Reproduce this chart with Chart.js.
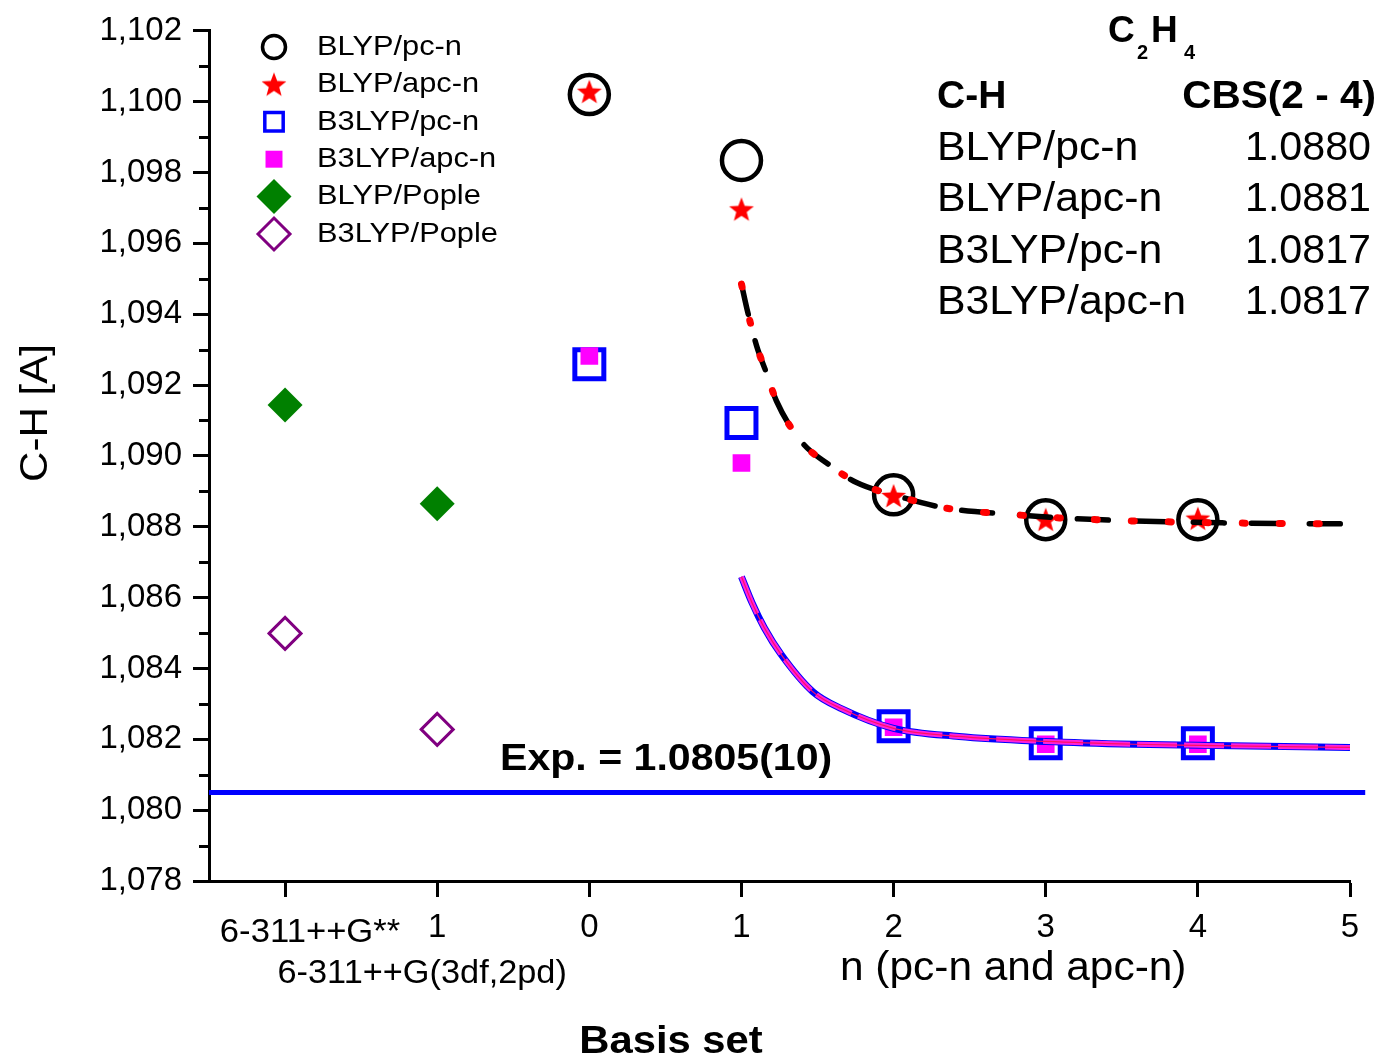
<!DOCTYPE html>
<html>
<head>
<meta charset="utf-8">
<title>C2H4 C-H bond length vs basis set</title>
<script src="https://cdn.jsdelivr.net/npm/chart.js@4.4.0/dist/chart.umd.min.js"></script>
<style>
  html, body { margin: 0; padding: 0; background: #fff; }
  canvas { display: block; }
</style>
</head>
<body>
<canvas id="bondChart" width="1381" height="1057"></canvas>
<script>
const FONT = '"Liberation Sans", Arial, sans-serif';

// x = n for pc-n / apc-n; Pople sets sit at -2 (6-311++G**) and -1 (6-311++G(3df,2pd))
const nPc = [0, 1, 2, 3, 4];
const blypPc = [1.10020, 1.09834, 1.08890, 1.08820, 1.08820];
const blypApc = [1.10028, 1.09696, 1.08887, 1.08820, 1.08823];
const b3lypPc = [1.09259, 1.09093, 1.08237, 1.08189, 1.08189];
const b3lypApc = [1.09282, 1.08980, 1.08234, 1.08186, 1.08186];

const nPople = [-2, -1];
const blypPople = [1.09144, 1.08865];
const b3lypPople = [1.08499, 1.08228];

// CBS(2-4) extrapolation curves
const blypFitN = [1.00, 1.04, 1.10, 1.16, 1.23, 1.40, 1.57, 1.76, 2.00, 2.34, 2.80, 3.09, 3.53, 4.16, 4.97];
const blypFit = [1.09485, 1.09408, 1.09310, 1.09239, 1.09155, 1.09037, 1.08977, 1.08924, 1.08890, 1.08853, 1.08834, 1.08825, 1.08817, 1.08811, 1.08808];
const b3lypFitN = [1.00, 1.07, 1.15, 1.26, 1.47, 1.66, 2.00, 2.43, 3.00, 3.58, 4.00, 5.00];
const b3lypFit = [1.08659, 1.08585, 1.08515, 1.08440, 1.08334, 1.08286, 1.08231, 1.08208, 1.08194, 1.08186, 1.08183, 1.08177];

const expValue = 1.0805;
const expLabel = 'Exp. = 1.0805(10)';

const yTicks = [1.078, 1.080, 1.082, 1.084, 1.086, 1.088, 1.090, 1.092, 1.094, 1.096, 1.098, 1.100, 1.102];
const yMinorTicks = [1.079, 1.081, 1.083, 1.085, 1.087, 1.089, 1.091, 1.093, 1.095, 1.097, 1.099, 1.101];
const xTicks = [-2, -1, 0, 1, 2, 3, 4, 5];
const xTickLabels = ['6-311++G**', '1', '0', '1', '2', '3', '4', '5'];
const xSecondLabel = '6-311++G(3df,2pd)';
const xPcLabel = 'n (pc-n and apc-n)';

const cbsMethods = ['BLYP/pc-n', 'BLYP/apc-n', 'B3LYP/pc-n', 'B3LYP/apc-n'];
const cbsValues = ['1.0880', '1.0881', '1.0817', '1.0817'];

const pts = (xs, ys) => xs.map((x, i) => ({ x: x, y: ys[i] }));

function starImage(outer, color) {
  const inner = outer * 0.42;
  const c = document.createElement('canvas');
  c.width = c.height = Math.ceil(outer * 2) + 2;
  const g = c.getContext('2d');
  const cx = c.width / 2;
  g.fillStyle = color;
  g.beginPath();
  for (let i = 0; i < 10; i++) {
    const r = i % 2 ? inner : outer;
    const a = -Math.PI / 2 + i * Math.PI / 5;
    g.lineTo(cx + r * Math.cos(a), cx + 1 + r * Math.sin(a));
  }
  g.closePath();
  g.fill();
  return c;
}
const redStar = starImage(13, '#ff0000');

const markerSets = [
  { label: 'BLYP/pc-n', data: pts(nPc, blypPc), pointStyle: 'circle', pointRadius: 19.5, pointBorderWidth: 4.5,
    pointBorderColor: '#000', pointBackgroundColor: 'rgba(0,0,0,0)', order: 22,
    legend: { radius: 11.5, borderWidth: 3.5 } },
  { label: 'BLYP/apc-n', data: pts(nPc, blypApc), pointStyle: redStar, pointRadius: 13, pointBorderWidth: 0,
    pointBorderColor: '#ff0000', pointBackgroundColor: '#ff0000', order: 21,
    legend: { radius: 13, borderWidth: 0 } },
  { label: 'B3LYP/pc-n', data: pts(nPc, b3lypPc), pointStyle: 'rect', pointRadius: 20.5, pointBorderWidth: 5,
    pointBorderColor: '#0000ff', pointBackgroundColor: 'rgba(0,0,0,0)', order: 24,
    legend: { radius: 13, borderWidth: 3.5 } },
  { label: 'B3LYP/apc-n', data: pts(nPc, b3lypApc), pointStyle: 'rect', pointRadius: 12.5, pointBorderWidth: 0,
    pointBorderColor: '#ff00ff', pointBackgroundColor: '#ff00ff', order: 23,
    legend: { radius: 12, borderWidth: 0 } },
  { label: 'BLYP/Pople', data: pts(nPople, blypPople), pointStyle: 'rectRot', pointRadius: 17.5, pointBorderWidth: 0,
    pointBorderColor: '#008000', pointBackgroundColor: '#008000', order: 20,
    legend: { radius: 17.5, borderWidth: 0 } },
  { label: 'B3LYP/Pople', data: pts(nPople, b3lypPople), pointStyle: 'rectRot', pointRadius: 16, pointBorderWidth: 3,
    pointBorderColor: '#800080', pointBackgroundColor: 'rgba(0,0,0,0)', order: 20,
    legend: { radius: 16, borderWidth: 3 } }
];

const line = (data, color, width, dash, order, cap) => ({
  data: data, showLine: true, pointRadius: 0, borderColor: color, borderWidth: width,
  borderDash: dash, borderCapStyle: cap || 'butt', cubicInterpolationMode: 'monotone', order: order
});

// experimental line runs a little past the last tick
const expLine = Object.assign(line(pts([-2.5, 5.1], [expValue, expValue]), '#0000ff', 5, [], 30), { clip: false });

const datasets = [
  expLine,
  line(pts(b3lypFitN, b3lypFit), '#0000ff', 7, [], 5),
  line(pts(b3lypFitN, b3lypFit), '#ff22dd', 5, [40, 7], 4),
  line(pts(b3lypFitN, b3lypFit), '#ff1060', 1.2, [], 3),
  line(pts(blypFitN, blypFit), '#000000', 5.5, [31, 27], 2, 'round'),
  line(pts(blypFitN, blypFit), '#ff0000', 7, [3, 34], 1, 'round')
].concat(markerSets.map(m => Object.assign({ showLine: false }, m)));

// sx stretches glyphs horizontally, the figure's lettering runs a bit wide
function text(ctx, str, x, y, font, align, baseline, sx) {
  ctx.save();
  ctx.font = font;
  ctx.textAlign = align || 'left';
  ctx.textBaseline = baseline || 'alphabetic';
  ctx.fillStyle = '#000';
  ctx.translate(x, y);
  ctx.scale(sx || 1, 1);
  ctx.fillText(str, 0, 0);
  ctx.restore();
}

const annotations = {
  id: 'annotations',
  afterDraw(chart) {
    const ctx = chart.ctx;
    const xs = chart.scales.x;
    const ys = chart.scales.y;
    ctx.save();

    // minor ticks on the y axis
    ctx.strokeStyle = '#000';
    ctx.lineWidth = 3;
    yMinorTicks.forEach(v => {
      const py = Math.round(ys.getPixelForValue(v)) + 0.5;
      ctx.beginPath();
      ctx.moveTo(xs.left - 10, py);
      ctx.lineTo(xs.left, py);
      ctx.stroke();
    });

    // extra x labels
    text(ctx, xTickLabels[0], xs.getPixelForValue(-2) + 25, 942, '33px ' + FONT, 'center', null, 1.05);
    text(ctx, xSecondLabel, xs.getPixelForValue(-1) - 15, 983, '33px ' + FONT, 'center', null, 1.04);
    text(ctx, xPcLabel, 840, 980, '40px ' + FONT, 'left', null, 1.06);
    text(ctx, 'Basis set', 671, 1053, 'bold 38px ' + FONT, 'center', null, 1.1);

    ctx.save();
    ctx.translate(36, 413);
    ctx.rotate(-Math.PI / 2);
    text(ctx, 'C-H [A]', 0, 0, '39px ' + FONT, 'center', 'middle', 1.08);
    ctx.restore();

    // legend
    markerSets.forEach((m, i) => {
      const y = 47 + i * 37.4;
      ctx.fillStyle = m.pointBackgroundColor;
      ctx.strokeStyle = m.pointBorderColor;
      ctx.lineWidth = m.legend.borderWidth;
      Chart.helpers.drawPoint(ctx, {
        pointStyle: m.pointStyle, radius: m.legend.radius,
        borderWidth: m.legend.borderWidth, rotation: 0
      }, 274, y);
      text(ctx, m.label, 317, y, '28px ' + FONT, 'left', 'middle', 1.1);
    });

    // experimental value
    text(ctx, expLabel, 500, 770, 'bold 37px ' + FONT, 'left', null, 1.11);

    // molecule and CBS table
    const bold = 'bold 37px ' + FONT;
    text(ctx, 'C', 1108, 42, bold);
    text(ctx, '2', 1137, 59, 'bold 20px ' + FONT);
    text(ctx, 'H', 1151, 42, bold);
    text(ctx, '4', 1184, 59, 'bold 20px ' + FONT);
    text(ctx, 'C-H', 937, 108, 'bold 39px ' + FONT);
    text(ctx, 'CBS(2 - 4)', 1376, 108, 'bold 39px ' + FONT, 'right', null, 1.04);
    cbsMethods.forEach((name, i) => {
      const y = 160 + i * 51.3;
      text(ctx, name, 937, y, '40px ' + FONT, 'left', null, 1.07);
      text(ctx, cbsValues[i], 1371, y, '40px ' + FONT, 'right', null, 1.03);
    });

    ctx.restore();
  }
};

new Chart(document.getElementById('bondChart'), {
  type: 'scatter',
  data: { datasets: datasets },
  plugins: [annotations],
  options: {
    responsive: false,
    animation: false,
    events: [],
    layout: { padding: { left: 0, right: 31, top: 29, bottom: 0 } },
    plugins: { legend: { display: false }, tooltip: { enabled: false } },
    scales: {
      x: {
        type: 'linear',
        min: -2.5,
        max: 5,
        afterFit: s => { s.height = 176; },
        afterBuildTicks: s => { s.ticks = xTicks.map(v => ({ value: v })); },
        border: { display: true, color: '#000', width: 3 },
        grid: { drawOnChartArea: false, drawTicks: true, tickLength: 16, tickWidth: 3, tickColor: '#000' },
        ticks: {
          autoSkip: false, maxRotation: 0, padding: 11, color: '#000',
          font: { family: FONT, size: 33 },
          callback: v => {
            const i = xTicks.indexOf(v);
            return i > 0 ? xTickLabels[i] : '';
          }
        }
      },
      y: {
        type: 'linear',
        min: 1.078,
        max: 1.102,
        afterFit: s => { s.width = 209; },
        afterBuildTicks: s => { s.ticks = yTicks.map(v => ({ value: v })); },
        border: { display: true, color: '#000', width: 3 },
        grid: { drawOnChartArea: false, drawTicks: true, tickLength: 16, tickWidth: 3, tickColor: '#000' },
        ticks: {
          padding: 11, color: '#000',
          font: { family: FONT, size: 33 },
          callback: v => v.toFixed(3).replace('.', ',')
        }
      }
    }
  }
});
</script>
</body>
</html>
